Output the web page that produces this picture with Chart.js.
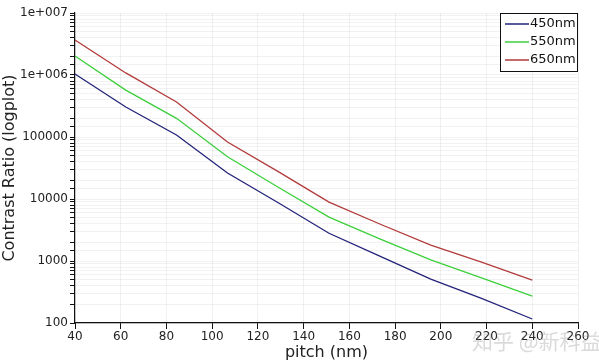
<!DOCTYPE html>
<html>
<head>
<meta charset="utf-8">
<script src="https://cdn.jsdelivr.net/npm/chart.js@4/dist/chart.umd.min.js"></script>
<style>
  html, body { margin: 0; padding: 0; background: #fff; }
  #wrap { width: 599px; height: 364px; position: relative; }
</style>
</head>
<body>
<div id="wrap"><canvas id="chart" width="599" height="364"></canvas></div>
<script>
// pitch values (nm)
const pitch = [40, 62.2, 84.4, 106.7, 128.9, 151.1, 173.3, 195.6, 217.8, 240];
const series450 = [1040000, 305000, 108000, 26300, 8700, 2800, 1200, 510, 250, 116];
const series550 = [2020000, 570000, 200000, 48000, 15500, 5100, 2270, 1040, 535, 272];
const series650 = [3670000, 1080000, 367000, 83000, 27600, 8900, 3950, 1800, 960, 490];
const seriesNames = ["450nm", "550nm", "650nm"];
const seriesColors = ["#23237a", "#3ccf3c", "#b23a3a"];
const yLabels = { 100: "100", 1000: "1000", 10000: "10000", 100000: "100000", 1000000: "1e+006", 10000000: "1e+007" };

const tickFont = { family: "DejaVu Sans", size: 12 };
const titleFont = { family: "DejaVu Sans", size: 16 };

function toPoints(values) {
  return values.map((v, i) => ({ x: pitch[i], y: v }));
}

const allSeries = [series450, series550, series650];

// boxed legend in the top right corner
const boxLegend = {
  id: "boxLegend",
  afterDraw(chart) {
    const ctx = chart.ctx;
    const area = chart.chartArea;
    const w = 78, h = 59;
    const x0 = area.right - w, y0 = area.top;
    ctx.save();
    ctx.fillStyle = "#fff";
    ctx.fillRect(x0, y0, w, h);
    ctx.strokeStyle = "#111";
    ctx.lineWidth = 1;
    ctx.strokeRect(x0 + 0.5, y0 + 0.5, w - 1, h - 1);
    ctx.font = "13px DejaVu Sans";
    ctx.textBaseline = "middle";
    chart.data.datasets.forEach((ds, i) => {
      const y = y0 + 11 + i * 18;
      ctx.strokeStyle = ds.borderColor;
      ctx.lineWidth = 1.5;
      ctx.beginPath();
      ctx.moveTo(x0 + 5, y);
      ctx.lineTo(x0 + 29, y);
      ctx.stroke();
      ctx.fillStyle = "#111";
      ctx.fillText(ds.label, x0 + 30, y);
    });
    ctx.restore();
  }
};

// faint watermark text
const watermark = {
  id: "watermark",
  afterDraw(chart) {
    const ctx = chart.ctx;
    ctx.save();
    ctx.font = "21px 'Noto Sans CJK SC'";
    ctx.fillStyle = "rgba(150,150,150,0.35)";
    ctx.textBaseline = "middle";
    ctx.fillText("知乎 @新科益", 472, 341);
    ctx.restore();
  }
};

new Chart(document.getElementById("chart"), {
  type: "line",
  data: {
    datasets: allSeries.map((s, i) => ({
      label: seriesNames[i],
      data: toPoints(s),
      borderColor: seriesColors[i],
      backgroundColor: seriesColors[i],
      borderWidth: 1.3,
      pointRadius: 0,
      tension: 0
    }))
  },
  options: {
    responsive: false,
    animation: false,
    layout: { padding: { top: 13, right: 21, left: 0, bottom: 0 } },
    plugins: { legend: { display: false }, tooltip: { enabled: false } },
    scales: {
      x: {
        type: "linear",
        min: 40,
        max: 260,
        afterFit: (scale) => { scale.height = 41; },
        border: { color: "#111", width: 1.2 },
        grid: { color: "rgba(0,0,0,0.06)", tickColor: "#111", tickLength: 6 },
        ticks: { stepSize: 20, color: "#222", font: tickFont, padding: 1, maxRotation: 0 },
        title: { display: true, text: "pitch (nm)", color: "#222", font: titleFont, padding: { top: 0, bottom: 2 } }
      },
      y: {
        type: "logarithmic",
        min: 100,
        max: 10000000,
        afterFit: (scale) => { scale.width = 75; },
        border: { color: "#111", width: 1.2 },
        grid: { color: "rgba(0,0,0,0.05)", tickColor: "#111", tickLength: 5 },
        ticks: {
          color: "#222",
          font: tickFont,
          padding: 2,
          autoSkip: false,
          callback: (v) => yLabels[v] || ""
        },
        title: { display: true, text: "Contrast Ratio (logplot)", color: "#222", font: titleFont, padding: { top: 0, bottom: 4 } }
      }
    }
  },
  plugins: [boxLegend, watermark]
});
</script>
</body>
</html>
